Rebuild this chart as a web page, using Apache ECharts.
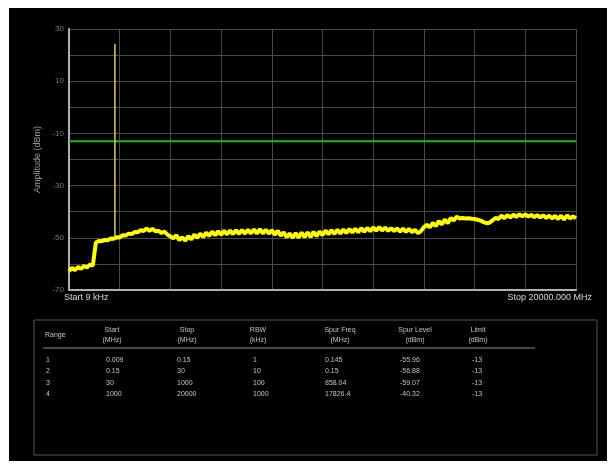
<!DOCTYPE html>
<html>
<head>
<meta charset="utf-8">
<script src="https://cdn.jsdelivr.net/npm/echarts@6/dist/echarts.min.js"></script>
<style>
  html, body { margin: 0; padding: 0; background: #ffffff; }
  #spectrum { position: absolute; left: 9px; top: 8px; width: 598px; height: 453px; background: #000; }
</style>
</head>
<body>
<div id="spectrum"></div>
<script>
// amplitude trace (dBm), one value per sweep bin, 170 bins over 10 divisions
var traceDbm = [
  // range 1
  -62.8, -61.5, -62.4, -61.2, -61.9, -60.8, -61.4, -60.3, -60.6,
  // range 2 onwards
  -51.8, -51.2, -51.3, -50.8, -50.9, -50.3, -50.4, -49.8, -49.9, -49.0,
  -49.1, -48.4, -48.6, -47.8, -47.9, -47.1, -47.4, -46.5, -47.3, -46.6,
  -47.5, -47.3, -48.2, -47.6, -48.8, -49.5, -50.2,
  -49.0, -50.9, -49.8, -51.1, -49.4, -50.6, -48.8, -50.0, -48.4, -49.7,
  -48.0, -49.3, -47.6, -49.0, -47.5, -48.8, -47.3, -48.7, -47.2, -48.6,
  -47.1, -48.5, -47.0, -48.4, -46.9, -48.3, -46.8, -48.4, -46.7, -48.3,
  -46.9, -48.4, -47.1, -48.8, -47.3, -49.2, -47.9, -49.8, -48.3, -50.0,
  -48.2, -49.9, -48.0, -49.8, -47.9, -49.7, -47.7, -49.4, -47.6, -49.0,
  -47.2, -48.7, -47.1, -48.5, -46.9, -48.4, -46.8, -48.2, -46.6, -48.0,
  -46.5, -47.9, -46.3, -47.7, -46.2, -47.5, -46.0, -47.3, -45.9, -47.2,
  -46.1, -47.3, -46.3, -47.4, -46.4, -47.6, -46.5, -47.7, -46.6, -47.8,
  -46.9, -48.2, -47.4,
  -46.0, -45.0, -46.0, -44.3, -45.5, -43.6, -44.9, -43.0, -44.4, -42.4,
  -43.4, -41.9, -42.6,
  -42.4, -42.6, -42.5, -42.7, -42.8, -43.1, -43.4, -44.0, -44.4, -44.2,
  -43.3,
  -42.4, -42.8, -41.5, -42.5, -41.3, -42.2, -41.1, -42.0, -41.0, -41.8,
  -41.0, -41.9, -41.2, -42.1, -41.3, -42.2, -41.4, -42.4, -41.5, -42.6,
  -41.6, -42.8, -41.5, -43.0, -41.4, -42.6, -41.8, -42.5
];
var spikeBin = [15.4, 15.4];
var spikeDbm = [-50.2, 24.3];
var limitDbm = -13;

var yTicks = [30, 10, -10, -30, -50, -70];

// results table
var tableHead = ["Range", "Start\n(MHz)", "Stop\n(MHz)", "RBW\n(kHz)", "Spur Freq\n(MHz)", "Spur Level\n(dBm)", "Limit\n(dBm)"];
var rangeNo = ["1", "2", "3", "4"];
var startMHz = ["0.009", "0.15", "30", "1000"];
var stopMHz = ["0.15", "30", "1000", "20000"];
var rbwKHz = ["1", "10", "100", "1000"];
var spurFreq = ["0.145", "0.15", "858.04", "17826.4"];
var spurLevel = ["-55.96", "-56.88", "-59.07", "-40.32"];
var limitCol = ["-13", "-13", "-13", "-13"];

var OX = 9, OY = 8; // page offset of the black panel
var FONT = "'Liberation Sans', Arial, sans-serif";

var traceData = traceDbm.map(function (v, i) { return [i, v]; });
var spikeData = spikeBin.map(function (b, i) { return [b, spikeDbm[i]]; });
var limitData = [[0, limitDbm], [traceDbm.length - 1, limitDbm]];

var graphics = [];
function txt(x, y, s, align, size, fill) {
  graphics.push({
    type: "text", x: x - OX, y: y - OY,
    style: { text: s, fill: fill || "#c4c4c4", font: (size || 7) + "px " + FONT,
             textAlign: align || "left", textVerticalAlign: "middle", lineHeight: 10 }
  });
}
function line(x1, y1, x2, y2, color) {
  graphics.push({
    type: "line", shape: { x1: x1 - OX, y1: y1 - OY, x2: x2 - OX, y2: y2 - OY },
    style: { stroke: color || "#666", lineWidth: 1 }
  });
}

txt(64, 298, "Start 9 kHz", "left", 9, "#d8d8d8");
txt(592, 298, "Stop 20000.000 MHz", "right", 9, "#d8d8d8");

// table frame
graphics.push({
  type: "rect", shape: { x: 34 - OX, y: 320 - OY, width: 563, height: 135 },
  style: { fill: "none", stroke: "#555", lineWidth: 1 }
});
line(43, 348, 535, 348, "#8a8a8a");

var headX = [45, 112, 187, 258, 340, 415, 478];
tableHead.forEach(function (h, i) {
  txt(headX[i], 335, h, i === 0 ? "left" : "center", 7);
});
var colX = [46, 106, 177, 253, 325, 400, 472];
var rowY = [360, 371.5, 383, 394.5];
var cols = [rangeNo, startMHz, stopMHz, rbwKHz, spurFreq, spurLevel, limitCol];
cols.forEach(function (col, c) {
  col.forEach(function (s, r) { txt(colX[c], rowY[r], s, "left", 7); });
});

var chart = echarts.init(document.getElementById("spectrum"));
chart.setOption({
  backgroundColor: "#000",
  animation: false,
  grid: { left: 69 - OX, top: 29 - OY, width: 507, height: 261 },
  xAxis: {
    type: "value", min: 0, max: traceDbm.length - 1, interval: 17,
    axisLine: { show: true, onZero: false, lineStyle: { color: "#b0b0b0", width: 2 } },
    axisTick: { show: false },
    axisLabel: { show: false },
    splitLine: { show: true, lineStyle: { color: "#4a4a4a", width: 1 } }
  },
  yAxis: {
    type: "value", min: -70, max: 30, interval: 10,
    name: "Amplitude (dBm)", nameLocation: "middle", nameGap: 27,
    nameTextStyle: { color: "#9a9a9a", fontSize: 9, fontFamily: FONT },
    axisLine: { show: true, lineStyle: { color: "#b0b0b0", width: 2 } },
    axisTick: { show: false },
    axisLabel: {
      color: "#7a7a7a", fontSize: 8, fontFamily: FONT, margin: 5,
      formatter: function (v) { return yTicks.indexOf(v) >= 0 ? String(v) : ""; }
    },
    splitLine: { show: true, lineStyle: { color: "#4a4a4a", width: 1 } }
  },
  series: [
    {
      type: "line", data: limitData, symbol: "none",
      lineStyle: { color: "#1fb81f", width: 2 }, z: 3
    },
    {
      type: "line", data: spikeData, symbol: "none",
      lineStyle: { color: "#d4d45a", width: 1.5 }, z: 4
    },
    {
      type: "line", data: traceData, symbol: "none",
      lineStyle: { color: "#ffff00", width: 4 }, z: 5
    }
  ],
  graphic: graphics
});
</script>
</body>
</html>
